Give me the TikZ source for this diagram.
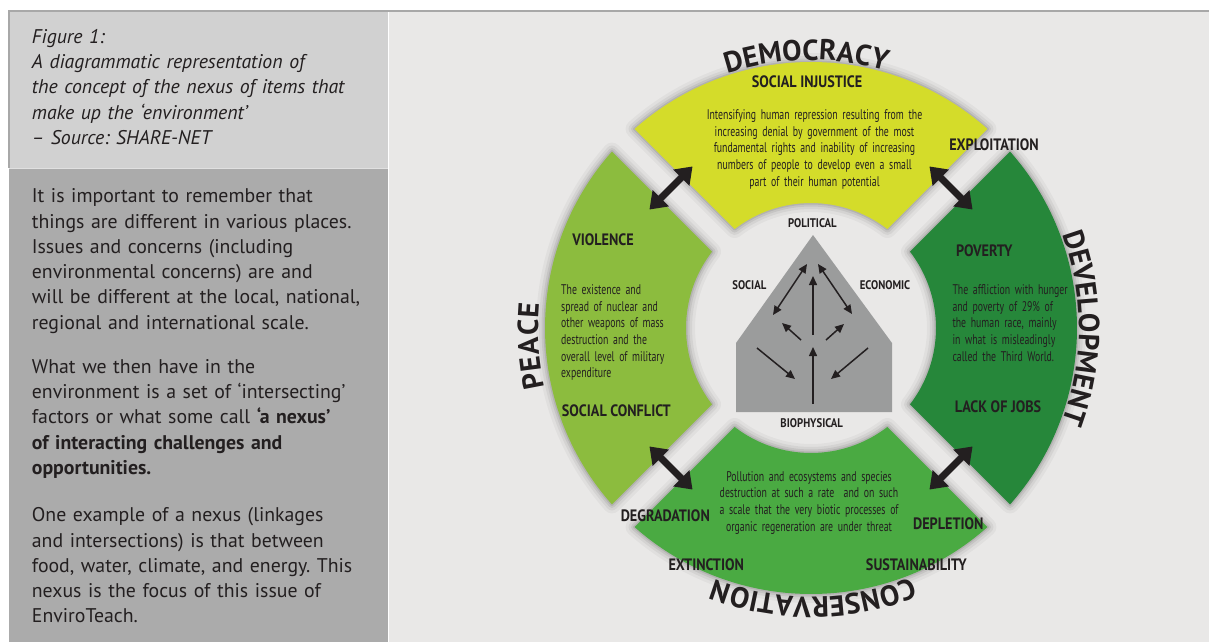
\documentclass[tikz,border=0pt]{standalone}
\usepackage{fontspec}
\setmainfont{PT Sans}
\newfontfamily\condb[FakeStretch=0.86]{PT Sans}
\newfontfamily\condr[FakeStretch=0.70]{PT Sans}
\usetikzlibrary{calc,arrows.meta,decorations.text}
\definecolor{ink}{RGB}{35,31,32}
\definecolor{yel}{RGB}{212,220,42}
\definecolor{lgreen}{RGB}{140,188,62}
\definecolor{mgreen}{RGB}{74,170,66}
\definecolor{dgreen}{RGB}{38,135,58}
\definecolor{pent}{RGB}{155,156,156}
\definecolor{panelbg}{RGB}{233,232,231}
\definecolor{boxtop}{RGB}{209,209,209}
\definecolor{boxbot}{RGB}{171,171,171}
\definecolor{rule}{RGB}{168,168,168}
\newcommand\arcfont{\bfseries\fontsize{29}{29}\selectfont}
\frenchspacing
\begin{document}
\begin{tikzpicture}[x=1pt,y=1pt,
  ltxt/.style={inner sep=0pt, anchor=base west, text width=370pt, align=left, text=ink,
    font=\fontsize{19.8}{25.3}\selectfont},
  lab/.style={inner sep=0pt, anchor=base, text=ink, font=\condb\bfseries\fontsize{16.5}{18}\selectfont},
  slab/.style={inner sep=0pt, anchor=base, text=ink, font=\condb\bfseries\fontsize{12.5}{14}\selectfont},
  body/.style={inner sep=0pt, text=ink, font=\condr\fontsize{14}{16.7}\selectfont},
  bigarrow/.style={draw=ink, line width=7pt, {Triangle[length=16pt,width=22pt]}-{Triangle[length=16pt,width=22pt]}},
  sarrow/.style={draw=ink, line width=1.5pt, -{Triangle[length=9pt,width=8pt]}},
  sdarrow/.style={draw=ink, line width=1.5pt, {Triangle[length=9pt,width=8pt]}-{Triangle[length=9pt,width=8pt]}},
  sectp/.style={insert path={($(C)+(#1-45+\dO:\Ro)$) arc[start angle=#1-45+\dO, end angle=#1+45-\dO, radius=\Ro]
     -- ($(C)+(#1+45-\dI:\Ri)$) arc[start angle=#1+45-\dI, end angle=#1-45+\dI, radius=\Ri] -- cycle}}
]
\useasboundingbox (0,0) rectangle (1209,-642);
\fill[white] (0,0) rectangle (1209,-642);
% panels
\fill[boxtop] (9,-11) rectangle (388,-168);
\fill[boxbot] (9,-169) rectangle (388,-642);
\fill[panelbg] (389,-12) rectangle (1209,-642);
\draw[rule, line width=2pt] (8,-11) -- (1209,-11);
\draw[rule, line width=1.5pt] (9,-11) -- (9,-168);
\draw[white!88!black, line width=0.8pt] (9,-168.5) -- (388,-168.5);

% left texts
\node[ltxt, font=\itshape\fontsize{19.8}{25.3}\selectfont] (cap) at (31.7,-43.3)
  {Figure 1:\\A diagrammatic representation of\\the concept of the nexus of items that\\make up the ‘environment’\\– Source: SHARE-NET};
\node[ltxt] (p1) at (31.7,-202.7)
  {It is important to remember that\\things are different in various places.\\Issues and concerns (including\\environmental concerns) are and\\will be different at the local, national,\\regional and international scale.};
\node[ltxt] (p2) at (31.7,-373.3)
  {What we then have in the\\environment is a set of ‘intersecting’\\factors or what some call \textbf{‘a nexus’}\\\textbf{of interacting challenges and}\\\textbf{opportunities.}};
\node[ltxt] (p3) at (31.7,-521.7)
  {One example of a nexus (linkages\\and intersections) is that between\\food, water, climate, and energy. This\\nexus is the focus of this issue of\\EnviroTeach.};

% diagram geometry
\coordinate (C) at (811,-328);
\def\Ro{266}\def\Ri{125}
\pgfmathsetmacro\dO{asin(16/266)}
\pgfmathsetmacro\dI{asin(16/125)}

% shadows
\foreach \t in {90,180,270,0}{
  \foreach \w/\o in {18/0.035,12/0.05,7/0.07,3/0.09}{
    \draw[line width=\w pt, black, opacity=\o, line join=round, shift={(1,-1.5)}] [sectp=\t];
  }
}
% sectors
\fill[yel] [sectp=90];
\fill[lgreen] [sectp=180];
\fill[mgreen] [sectp=270];
\fill[dgreen] [sectp=0];

% big arrows
\foreach \a/\n in {45/ur,135/ul,225/ll,315/lr}{
  \coordinate (\n1) at ($(C)+(\a:198)+(\a+90:30.5)$);
  \coordinate (\n2) at ($(C)+(\a:198)+(\a-90:30.5)$);
  \draw[bigarrow] (\n1) -- (\n2);
}

% pentagon
\fill[pent] (736,-343) -- (813,-235) -- (892,-343) -- (892,-412) -- (736,-412) -- cycle;
\coordinate (a1s) at (773,-315); \coordinate (a1e) at (807,-264);
\coordinate (a2s) at (813,-335); \coordinate (a2e) at (813,-276);
\coordinate (a3s) at (818,-264); \coordinate (a3e) at (852,-314);
\coordinate (a4s) at (801,-340); \coordinate (a4e) at (782,-323);
\coordinate (a5s) at (826,-340); \coordinate (a5e) at (844,-324);
\coordinate (a6s) at (757,-348); \coordinate (a6e) at (795,-379);
\coordinate (a7s) at (813,-404); \coordinate (a7e) at (813,-347);
\coordinate (a8s) at (868,-348); \coordinate (a8e) at (831,-379);
\draw[sdarrow] (a1s) -- (a1e);
\draw[sarrow] (a2s) -- (a2e);
\draw[sdarrow] (a3s) -- (a3e);
\draw[sarrow] (a4s) -- (a4e);
\draw[sarrow] (a5s) -- (a5e);
\draw[sarrow] (a6s) -- (a6e);
\draw[sarrow] (a7s) -- (a7e);
\draw[sarrow] (a8s) -- (a8e);

\node[slab] (pol) at (812.3,-227.7) {POLITICAL};
\node[slab] (soc) at (749.3,-289.3) {SOCIAL};
\node[slab] (eco) at (885,-289.3) {ECONOMIC};
\node[slab] (bio) at (811.7,-427.7) {BIOPHYSICAL};

% labels
\node[lab] (sinj) at (807,-87.3) {SOCIAL INJUSTICE};
\node[lab] (expl) at (994,-150.7) {EXPLOITATION};
\node[lab] (viol) at (603,-245) {VIOLENCE};
\node[lab] (sconf) at (616.3,-416) {SOCIAL CONFLICT};
\node[lab] (pov) at (984.3,-256.7) {POVERTY};
\node[lab] (lack) at (998,-412.7) {LACK OF JOBS};
\node[lab] (degr) at (665.3,-521.7) {DEGRADATION};
\node[lab] (depl) at (948.3,-529.3) {DEPLETION};
\node[lab] (ext) at (706.2,-570.7) {EXTINCTION};
\node[lab] (sust) at (916.3,-570.7) {SUSTAINABILITY};

% body texts
\node[body, anchor=base, text width=260pt, align=center] (yb) at (814.5,-119.3)
  {Intensifying human repression resulting from the\\increasing denial by government of the most\\fundamental rights and inability of increasing\\numbers of people to develop even a small\\part of their human potential};
\node[body, anchor=base west, text width=150pt, align=left] (lb) at (561,-294.3)
  {The existence and\\spread of nuclear and\\other weapons of mass\\destruction and the\\overall level of military\\expenditure};
\node[body, anchor=base west, text width=150pt, align=left] (db) at (952.3,-294.3)
  {The affliction with hunger\\and poverty of 29\% of\\the human race, mainly\\in what is misleadingly\\called the Third World.};
\node[body, anchor=base, text width=220pt, align=center] (mb) at (809,-481)
  {Pollution and ecosystems and species\\destruction at such a rate ~and on such\\a scale that the very biotic processes of\\organic regeneration are under threat};

% curved titles
\path[decorate, decoration={text along path, text color=ink, text align=center, text={|\arcfont|DEMOCRACY}}]
  ($(C)+(131:268)$) arc[start angle=131, end angle=51, radius=268];
\path[decorate, decoration={text along path, text color=ink, text align=center, text={|\arcfont|CONSERVATION}}]
  ($(C)+(310.5:269)$) arc[start angle=310.5, end angle=230.5, radius=269];
\path[decorate, decoration={text along path, text color=ink, text align=fit to path, text={|\arcfont|PEACE}}]
  ($(C)+(192.6:273)$) arc[start angle=192.6, end angle=174.8, radius=273];
\path[decorate, decoration={text along path, text color=ink, text align=center, text={|\arcfont|DEVELOPMENT}}]
  ($(C)+(40:268)$) arc[start angle=40, end angle=-40, radius=268];
\end{tikzpicture}
\end{document}
